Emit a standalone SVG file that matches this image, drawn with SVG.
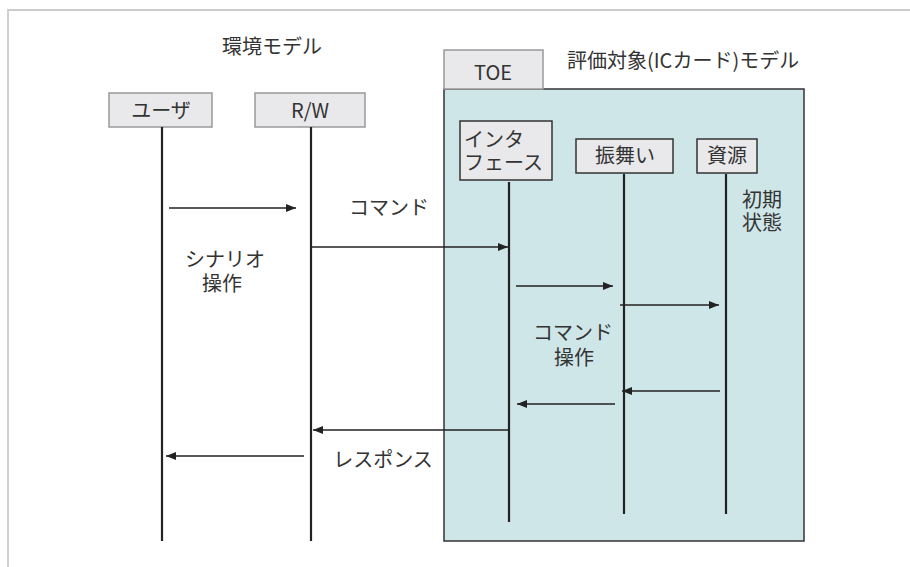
<svg xmlns="http://www.w3.org/2000/svg" width="910" height="567" viewBox="0 0 910 567">
<defs>
<style>
text{font-family:"Noto Sans CJK JP","Noto Sans",sans-serif;font-size:20px;fill:#333}
.env{fill:#e9e9eb;stroke:#999;stroke-width:1.5}
.in{fill:#e9e9eb;stroke:#333;stroke-width:1.5}
.life{stroke:#222;stroke-width:2.2;fill:none}
.msg{stroke:#222;stroke-width:1.3;fill:none}
.mid{text-anchor:middle}
</style>
<marker id="ah" viewBox="0 0 10 8" refX="10" refY="4" markerWidth="10" markerHeight="8" markerUnits="userSpaceOnUse" orient="auto">
<path d="M0,0 L10,4 L0,8 z" fill="#222"/>
</marker>
</defs>
<rect width="910" height="567" fill="#fff"/>
<path d="M8,567 V10 H910" fill="none" stroke="#ccc" stroke-width="1.8"/>

<g id="toe-frame">
<rect x="444" y="89" width="360" height="452" fill="#cfe6e8" stroke="#333" stroke-width="1.5"/>
<rect x="444" y="50" width="99" height="39" fill="#e9e9eb" stroke="#999" stroke-width="1.5"/>
<text x="493" y="80" class="mid">TOE</text>
<text x="567" y="68">評価対象(ICカード)モデル</text>
</g>
<g id="env-label"><text x="272" y="54" class="mid">環境モデル</text></g>

<g id="user">
<rect x="109" y="93" width="103" height="34" class="env"/>
<text x="161" y="118" class="mid">ユーザ</text>
<line x1="162" y1="127" x2="162" y2="541" class="life"/>
</g>
<g id="rw">
<rect x="255" y="93" width="110" height="34" class="env"/>
<text x="310" y="118" class="mid">R/W</text>
<line x1="311" y1="127" x2="311" y2="541" class="life"/>
</g>
<g id="interface">
<rect x="460" y="121" width="92" height="59" class="in"/>
<text x="464" y="147">インタ</text>
<text x="464" y="170">フェース</text>
<line x1="509" y1="182" x2="509" y2="522" class="life"/>
</g>
<g id="behavior">
<rect x="576" y="139" width="97" height="34" class="in"/>
<text x="625" y="163" class="mid">振舞い</text>
<line x1="624" y1="174" x2="624" y2="514" class="life"/>
</g>
<g id="resource">
<rect x="697" y="139" width="60" height="34" class="in"/>
<text x="727" y="163" class="mid">資源</text>
<line x1="726" y1="174" x2="726" y2="514" class="life"/>
<text x="742" y="207">初期</text>
<text x="742" y="230">状態</text>
</g>

<g id="connectors">
<line x1="169" y1="208" x2="296" y2="208" class="msg" marker-end="url(#ah)"/>
<line x1="311" y1="247" x2="508" y2="247" class="msg" marker-end="url(#ah)"/>
<line x1="516" y1="286" x2="613" y2="286" class="msg" marker-end="url(#ah)"/>
<line x1="620" y1="305" x2="719" y2="305" class="msg" marker-end="url(#ah)"/>
<line x1="720" y1="391" x2="622" y2="391" class="msg" marker-end="url(#ah)"/>
<line x1="615" y1="404" x2="517" y2="404" class="msg" marker-end="url(#ah)"/>
<line x1="509" y1="430" x2="313" y2="430" class="msg" marker-end="url(#ah)"/>
<line x1="304" y1="456" x2="166" y2="456" class="msg" marker-end="url(#ah)"/>
</g>

<g id="labels">
<text x="349" y="215">コマンド</text>
<text x="225" y="267" class="mid">シナリオ</text>
<text x="222" y="291" class="mid">操作</text>
<text x="573" y="340" class="mid">コマンド</text>
<text x="574" y="365" class="mid">操作</text>
<text x="383" y="467" class="mid">レスポンス</text>
</g>
</svg>
